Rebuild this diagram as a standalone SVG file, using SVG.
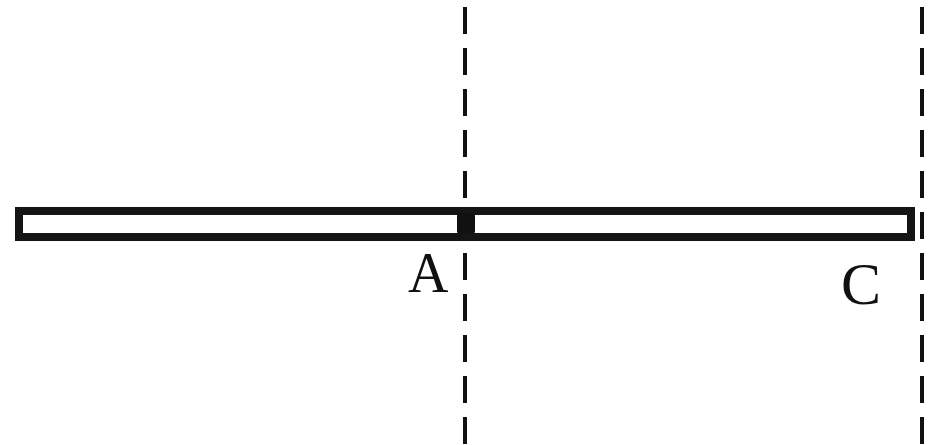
<svg xmlns="http://www.w3.org/2000/svg" width="948" height="445" viewBox="0 0 948 445">
<style>
.dash{stroke:#111;stroke-width:4;stroke-dasharray:27 14;fill:none}
.lbl{font-family:"Liberation Serif",serif;font-size:56px;fill:#111}
</style>
<rect width="948" height="445" fill="#fff"/>
<g id="connectors">
<line class="dash" x1="465" y1="7" x2="465" y2="445"/>
<line class="dash" x1="922" y1="7" x2="922" y2="445"/>
</g>
<g id="rod">
<rect x="19" y="211" width="892" height="26" fill="#fff" stroke="#151515" stroke-width="8"/>
</g>
<g id="A">
<rect x="457" y="213" width="18" height="21" rx="3" fill="#111"/>
<text class="lbl" x="408" y="292">A</text>
</g>
<g id="C">
<text class="lbl" x="841" y="304" style="font-size:60px">C</text>
</g>
</svg>
